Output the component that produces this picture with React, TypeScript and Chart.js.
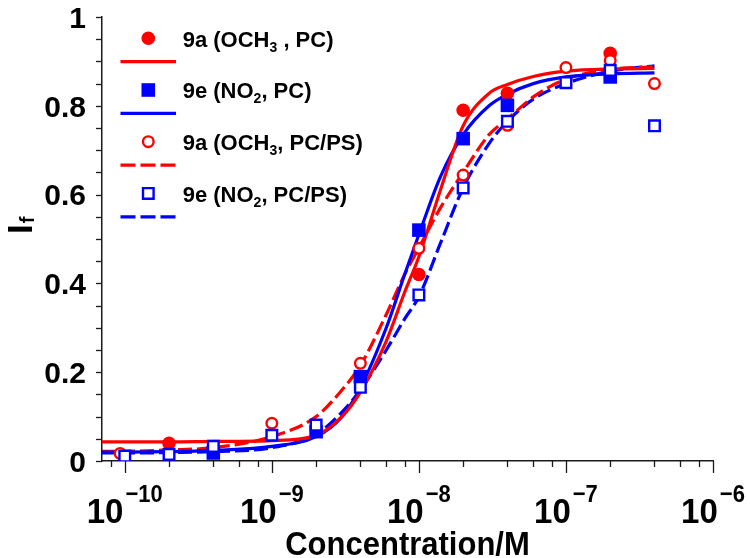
import React, { useEffect, useRef } from 'react';
import { Chart, registerables } from 'chart.js';

Chart.register(...registerables);

const RED = '#ff0000';
const BLUE = '#0000ff';
const AXIS = '#1a1a1a';
const FONT = '"Liberation Sans", Arial, Helvetica, sans-serif';

// ---- axis ticks ----
const xMin = 7e-11;
const xMax = 1e-6;
const xMajorTicks = [1e-10, 1e-9, 1e-8, 1e-7, 1e-6];
const xMajorExponents = ['\u221210', '\u22129', '\u22128', '\u22127', '\u22126'];
const xMinorTicks = [8e-11, 2e-10, 4e-10, 6e-10, 8e-10, 2e-9, 4e-9, 6e-9, 8e-9, 2e-8, 4e-8, 6e-8, 8e-8, 2e-7, 4e-7, 6e-7, 8e-7];
const yTickValues = [0, 0.05, 0.1, 0.15, 0.2, 0.25, 0.3, 0.35, 0.4, 0.45, 0.5, 0.55, 0.6, 0.65, 0.7, 0.75, 0.8, 0.85, 0.9, 0.95, 1];
const yLabelValues = [0, 0.2, 0.4, 0.6, 0.8, 1];
const yLabels = ['0', '0.2', '0.4', '0.6', '0.8', '1'];

// ---- measured points ----
const pcOch3Conc = [2e-10, 1e-8, 2e-8, 4e-8, 2e-7];
const pcOch3Val = [0.04, 0.42, 0.79, 0.828, 0.918];
const pcNo2Conc = [4e-10, 2e-9, 4e-9, 1e-8, 2e-8, 4e-8, 2e-7];
const pcNo2Val = [0.018, 0.066, 0.19, 0.52, 0.726, 0.801, 0.865];
const psOch3Conc = [9.3e-11, 1e-9, 4e-9, 1e-8, 2e-8, 4e-8, 1e-7, 2e-7, 4e-7];
const psOch3Val = [0.017, 0.085, 0.22, 0.479, 0.644, 0.756, 0.886, 0.902, 0.85];
const psNo2Conc = [1e-10, 2e-10, 4e-10, 1e-9, 2e-9, 4e-9, 1e-8, 2e-8, 4e-8, 1e-7, 2e-7, 4e-7];
const psNo2Val = [0.011, 0.015, 0.033, 0.058, 0.081, 0.166, 0.374, 0.615, 0.765, 0.852, 0.88, 0.755];

// ---- fitted curves ----
const curveConc = [7e-11, 1e-10, 2e-10, 4e-10, 1e-9, 2e-9, 3e-9, 4e-9, 6e-9, 8e-9, 1e-8, 1.4e-8, 2e-8, 3e-8, 4e-8, 6e-8, 1e-7, 2e-7, 4e-7];
const fitPcOch3 = [0.043, 0.043, 0.043, 0.044, 0.046, 0.058, 0.1, 0.155, 0.27, 0.38, 0.46, 0.61, 0.755, 0.828, 0.848, 0.866, 0.878, 0.883, 0.884];
const fitPcNo2 = [0.02, 0.02, 0.021, 0.024, 0.033, 0.055, 0.1, 0.165, 0.3, 0.42, 0.51, 0.64, 0.735, 0.8, 0.826, 0.85, 0.865, 0.872, 0.874];
const fitPsOch3 = [0.022, 0.022, 0.025, 0.03, 0.055, 0.1, 0.16, 0.215, 0.33, 0.42, 0.48, 0.57, 0.65, 0.735, 0.77, 0.82, 0.86, 0.882, 0.888];
const fitPsNo2 = [0.018, 0.018, 0.019, 0.021, 0.03, 0.06, 0.11, 0.16, 0.25, 0.32, 0.37, 0.49, 0.615, 0.715, 0.765, 0.815, 0.85, 0.878, 0.89];

// ---- legend ----
type Seg = { text: string; sub?: boolean };
const legendLabels: Seg[][] = [
  [{ text: '9a (OCH' }, { text: '3', sub: true }, { text: ' , PC)' }],
  [{ text: '9e (NO' }, { text: '2', sub: true }, { text: ', PC)' }],
  [{ text: '9a (OCH' }, { text: '3', sub: true }, { text: ', PC/PS)' }],
  [{ text: '9e (NO' }, { text: '2', sub: true }, { text: ', PC/PS)' }],
];
const legendColors = [RED, BLUE, RED, BLUE];
const legendShapes = ['circle', 'rect', 'circle', 'rect'];
const legendFilled = [true, true, false, false];
const legendDashed = [false, false, true, true];

const pts = (xs: number[], ys: number[]) => xs.map((x, i) => ({ x, y: ys[i] }));

function drawMarker(ctx: CanvasRenderingContext2D, shape: string, filled: boolean, color: string, x: number, y: number) {
  ctx.save();
  ctx.beginPath();
  if (shape === 'circle') {
    if (filled) ctx.arc(x, y, 6.8, 0, Math.PI * 2);
    else ctx.arc(x, y, 5.3, 0, Math.PI * 2);
  } else {
    if (filled) ctx.rect(x - 6.8, y - 6.8, 13.6, 13.6);
    else ctx.rect(x - 5.3, y - 5.3, 10.6, 10.6);
  }
  if (filled) {
    ctx.fillStyle = color;
    ctx.fill();
  } else {
    ctx.fillStyle = '#ffffff';
    ctx.fill();
    ctx.lineWidth = 2.4;
    ctx.strokeStyle = color;
    ctx.stroke();
  }
  ctx.restore();
}

function fillStretched(ctx: CanvasRenderingContext2D, text: string, x: number, y: number, sy: number) {
  ctx.save();
  ctx.translate(x, y);
  ctx.scale(1, sy);
  ctx.fillText(text, 0, 0);
  ctx.restore();
}

const decorPlugin = {
  id: 'decor',
  afterDraw(chart: any) {
    const ctx: CanvasRenderingContext2D = chart.ctx;
    const xs = chart.scales.x;
    const ys = chart.scales.y;
    const left = chart.chartArea.left;
    const bottom = chart.chartArea.bottom;
    ctx.save();
    ctx.strokeStyle = AXIS;
    ctx.lineWidth = 1.3;
    // y ticks
    for (const v of yTickValues) {
      const py = Math.round(ys.getPixelForValue(v)) + 0.5;
      ctx.beginPath();
      ctx.moveTo(left - 6, py);
      ctx.lineTo(left, py);
      ctx.stroke();
    }
    // x ticks
    for (const v of xMajorTicks) {
      const px = Math.round(xs.getPixelForValue(v)) + 0.5;
      ctx.beginPath();
      ctx.moveTo(px, bottom);
      ctx.lineTo(px, bottom + 12);
      ctx.stroke();
    }
    for (const v of xMinorTicks) {
      const px = Math.round(xs.getPixelForValue(v)) + 0.5;
      ctx.beginPath();
      ctx.moveTo(px, bottom);
      ctx.lineTo(px, bottom + 6);
      ctx.stroke();
    }
    // y labels
    ctx.fillStyle = '#000';
    ctx.textAlign = 'right';
    ctx.textBaseline = 'alphabetic';
    ctx.font = `bold 30px ${FONT}`;
    yLabelValues.forEach((v, i) => {
      const py = ys.getPixelForValue(v);
      ctx.fillText(yLabels[i], 86, py + 10.7);
    });
    // x labels: 10 with superscript exponent
    ctx.textAlign = 'left';
    xMajorTicks.forEach((v, i) => {
      const px = xs.getPixelForValue(v);
      ctx.font = `bold 33px ${FONT}`;
      const wb = ctx.measureText('10').width;
      ctx.font = `bold 22px ${FONT}`;
      const we = ctx.measureText(xMajorExponents[i]).width;
      const total = wb + 2 + we;
      const x0 = px - total / 2;
      ctx.font = `bold 33px ${FONT}`;
      fillStretched(ctx, '10', x0, 523, 1.06);
      ctx.font = `bold 22px ${FONT}`;
      fillStretched(ctx, xMajorExponents[i], x0 + wb + 2, 502, 1.1);
    });
    // x title
    ctx.textAlign = 'center';
    ctx.font = `bold 31px ${FONT}`;
    fillStretched(ctx, 'Concentration/M', (chart.chartArea.left + chart.chartArea.right) / 2, 555, 1.08);
    // y title I_f
    ctx.save();
    ctx.translate(32, 234);
    ctx.rotate(-Math.PI / 2);
    ctx.textAlign = 'left';
    ctx.font = `bold 35px ${FONT}`;
    ctx.fillText('I', 0, 0);
    const wi = ctx.measureText('I').width;
    ctx.font = `bold 20px ${FONT}`;
    ctx.fillText('f', wi + 1, 2);
    ctx.restore();
    // legend
    const rowH = 51.7;
    legendLabels.forEach((segs, i) => {
      const my = 38.3 + i * rowH;
      const ly = 61.7 + i * rowH;
      drawMarker(ctx, legendShapes[i], legendFilled[i], legendColors[i], 148.3, my);
      ctx.save();
      ctx.strokeStyle = legendColors[i];
      ctx.lineWidth = 3.2;
      ctx.setLineDash(legendDashed[i] ? [15, 5] : []);
      ctx.beginPath();
      ctx.moveTo(120.5, ly);
      ctx.lineTo(176, ly);
      ctx.stroke();
      ctx.restore();
      let cx = 182.7;
      const base = 46.5 + i * rowH;
      ctx.fillStyle = '#000';
      ctx.textAlign = 'left';
      for (const s of segs) {
        ctx.font = s.sub ? `bold 14px ${FONT}` : `bold 22px ${FONT}`;
        ctx.fillText(s.text, cx, s.sub ? base + 5 : base);
        cx += ctx.measureText(s.text).width;
      }
    });
    ctx.restore();
  },
};

export default function App() {
  const ref = useRef<HTMLCanvasElement | null>(null);
  useEffect(() => {
    if (!ref.current) return;
    const curve = (data: number[], color: string, dashed: boolean) => ({
      data: pts(curveConc, data),
      showLine: true,
      borderColor: color,
      borderWidth: 3.2,
      borderDash: dashed ? [14, 5] : [],
      pointRadius: 0,
      cubicInterpolationMode: 'monotone' as const,
      fill: false,
      order: 10,
    });
    const marks = (xs: number[], ys: number[], color: string, style: string, filled: boolean, order: number) => ({
      data: pts(xs, ys),
      showLine: false,
      pointStyle: style,
      pointRadius: style === 'rect' ? (filled ? 9.6 : 7.5) : filled ? 6.8 : 5.3,
      pointBackgroundColor: filled ? color : '#ffffff',
      pointBorderColor: color,
      pointBorderWidth: filled ? 0 : 2.4,
      order,
    });
    const chart = new Chart(ref.current, {
      type: 'scatter',
      data: {
        datasets: [
          curve(fitPcOch3, RED, false),
          curve(fitPcNo2, BLUE, false),
          curve(fitPsOch3, RED, true),
          curve(fitPsNo2, BLUE, true),
          marks(pcOch3Conc, pcOch3Val, RED, 'circle', true, 4),
          marks(pcNo2Conc, pcNo2Val, BLUE, 'rect', true, 3),
          marks(psOch3Conc, psOch3Val, RED, 'circle', false, 2),
          marks(psNo2Conc, psNo2Val, BLUE, 'rect', false, 1),
        ] as any,
      },
      options: {
        animation: false,
        responsive: false,
        devicePixelRatio: 1,
        layout: { padding: { left: 102, right: 37, top: 17, bottom: 97 } },
        plugins: { legend: { display: false }, tooltip: { enabled: false } },
        events: [],
        scales: {
          x: {
            type: 'logarithmic',
            min: xMin,
            max: xMax,
            grid: { display: false },
            ticks: { display: false },
            border: { display: true, color: AXIS, width: 1.5 },
            afterFit: (s: any) => { s.height = 0; },
          },
          y: {
            type: 'linear',
            min: 0,
            max: 1,
            grid: { display: false },
            ticks: { display: false },
            border: { display: true, color: AXIS, width: 1.5 },
            afterFit: (s: any) => { s.width = 0; },
          },
        },
      } as any,
      plugins: [decorPlugin],
    });
    return () => chart.destroy();
  }, []);
  return (
    <div style={{ position: 'absolute', left: 0, top: 0, width: 750, height: 558, background: '#fff' }}>
      <canvas ref={ref} width={750} height={558} style={{ width: 750, height: 558, display: 'block' }} />
    </div>
  );
}
